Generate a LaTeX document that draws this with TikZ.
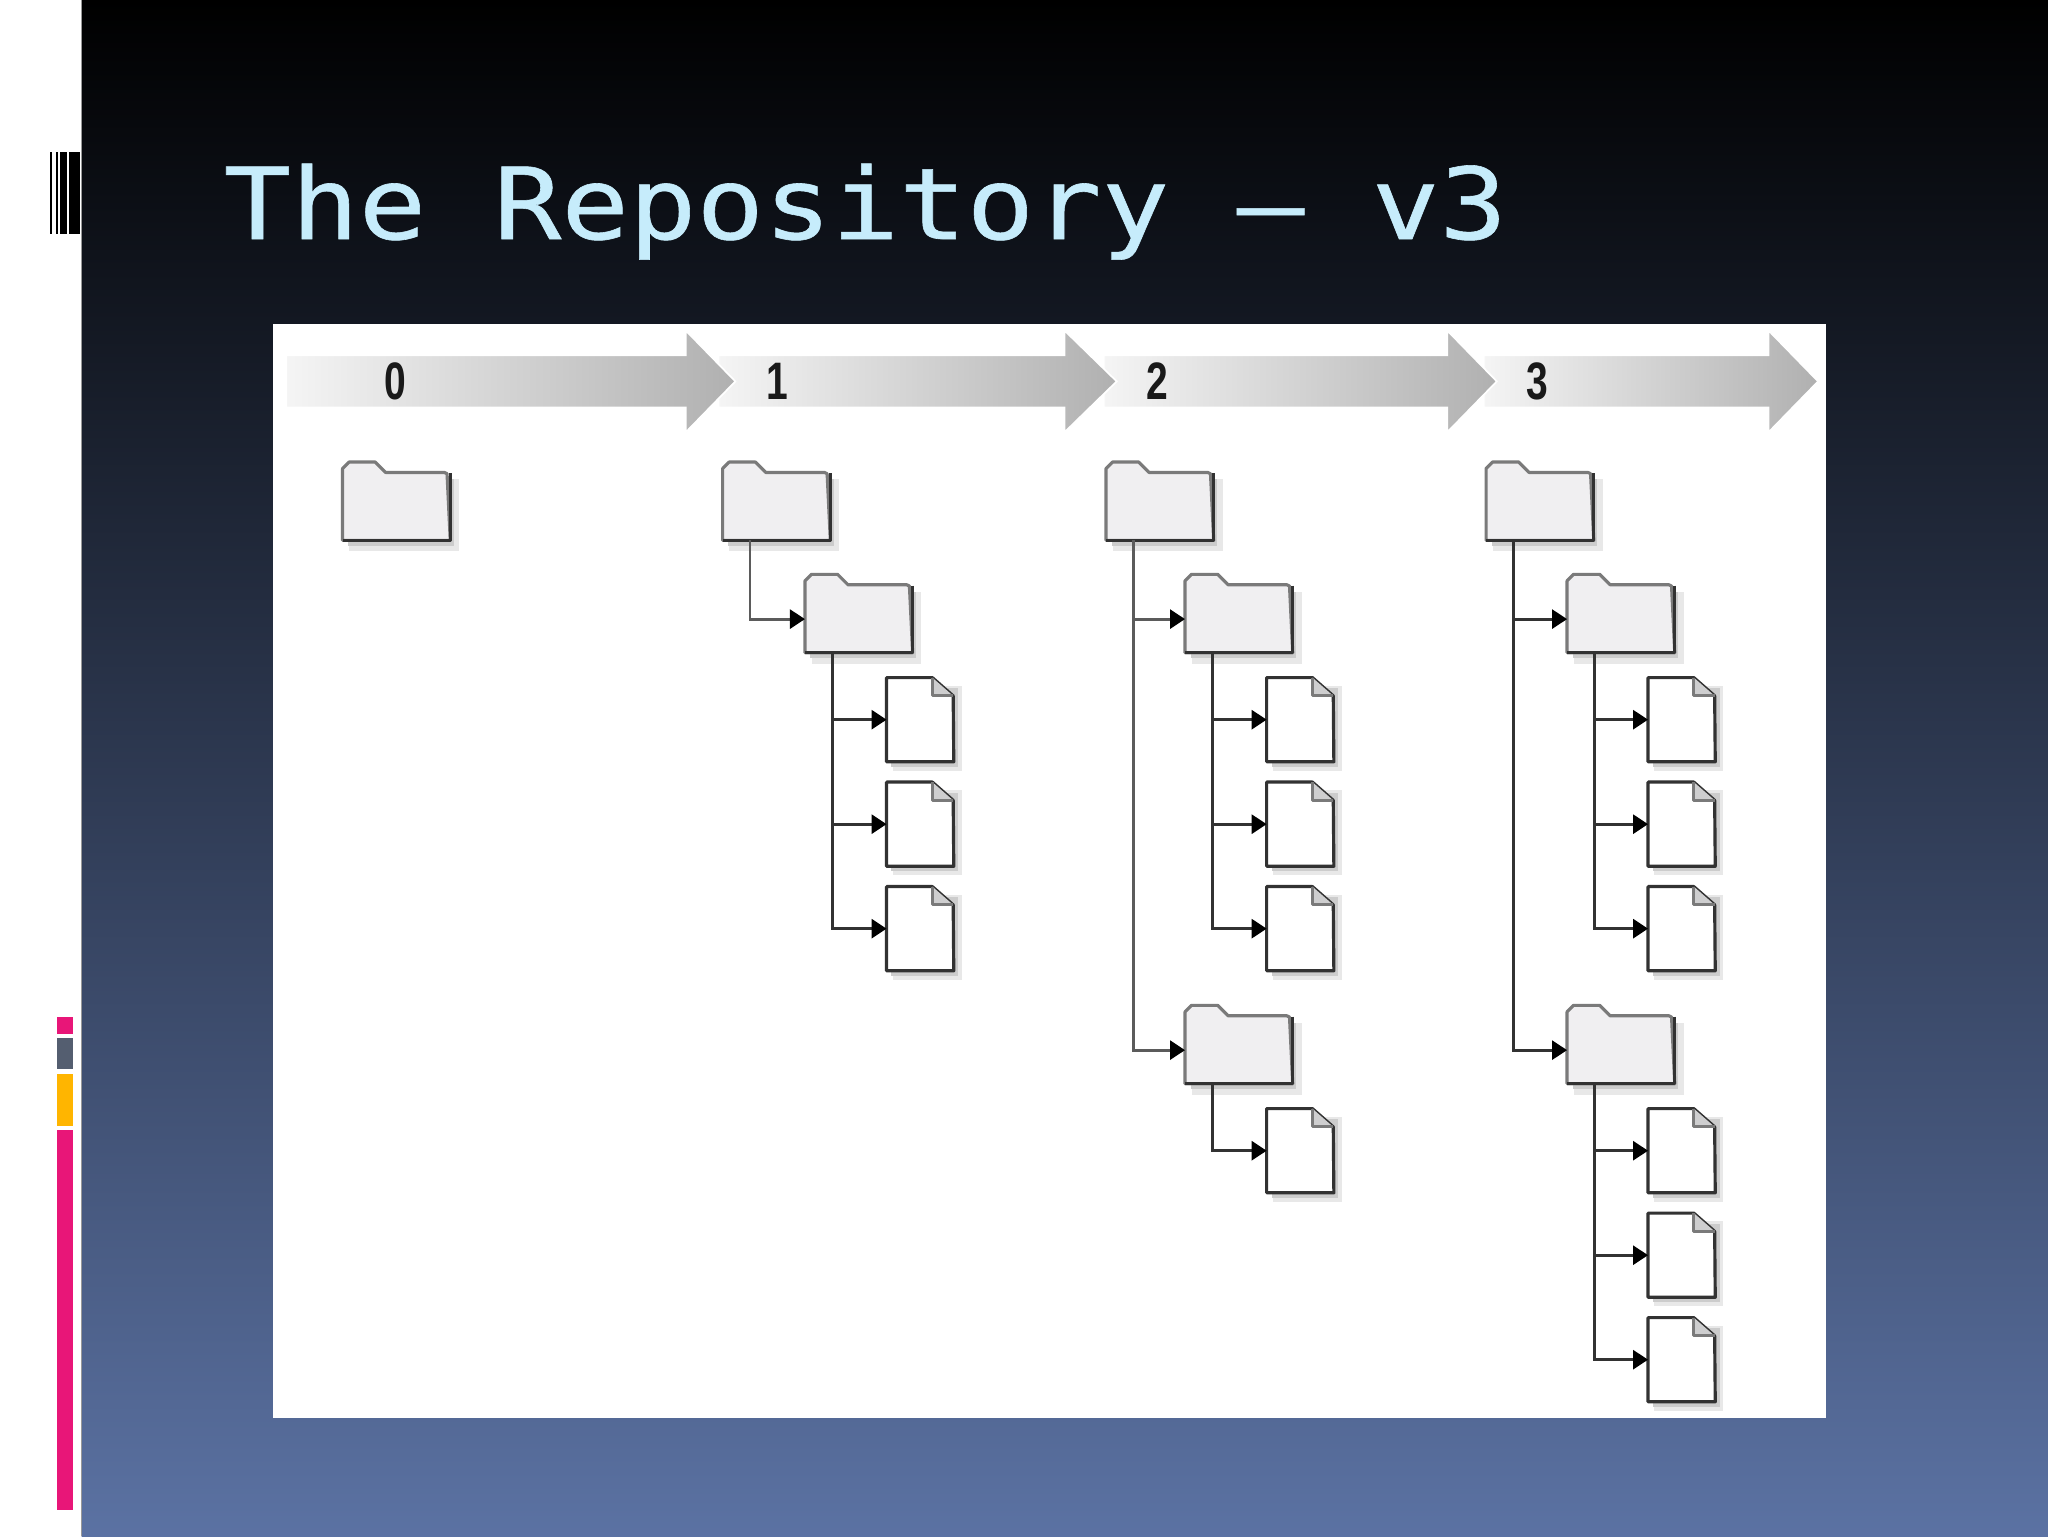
\documentclass[tikz,border=0pt]{standalone}
\usepackage{fontspec}
\usepackage{tikz}
\usetikzlibrary{arrows.meta, positioning, calc}
\newfontfamily\titlefont[FakeStretch=1.13, FakeBold=0.6]{DejaVu Sans Mono}
\newfontfamily\numfont[FakeStretch=0.74]{Liberation Sans}
\definecolor{slidetop}{RGB}{0, 0, 0}
\definecolor{slidemid}{RGB}{44, 58, 82}
\definecolor{slidelow}{RGB}{91, 114, 163}
\definecolor{titleblue}{RGB}{198, 236, 251}
\definecolor{barpink}{RGB}{232, 22, 120}
\definecolor{bargray}{RGB}{84, 94, 112}
\definecolor{baramber}{RGB}{255, 181, 0}
\definecolor{linegray}{RGB}{50, 50, 50}
\definecolor{foldergray}{RGB}{240, 239, 241}

% folder: body node plus tab, shadow and the point where its trunk leaves
\newcommand{\folder}[3]{
  \fill[shadowfar] (#2-36,#3-21) rectangle (#2+48,#3+34);
  \fill[shadownear] (#2-37,#3-21) rectangle (#2+44,#3+30);
  \node[folderbox] (#1) at (#2,#3) {};
  \draw[folderedge, fill=foldergray] (#1.south west) -- ++(0,-55) -- ++(5,-5) -- ++(20,0) -- ++(8,8) -- ++(45,0) -- ++(2,1) -- (#1.south east) -- cycle;
  \draw[folderdark] (#1.north east) -- (#1.south east) -- (#1.south west);
  \coordinate (#1-stem) at ($(#1.south west)+(21,0)$);
}
% document: page node plus turned corner and shadow
\newcommand{\page}[3]{
  \fill[shadowfar] (#2-21,#3-26) rectangle (#2+32,#3+39);
  \fill[shadownear] (#2-22,#3-24) rectangle (#2+29,#3+36);
  \node[pagebox] (#1) at (#2,#3) {};
  \draw[folderdark, fill=white] (#1.south west) -- (#1.north west) -- ++(35,0) -- ++(16,14) -- (#1.south east) -- cycle;
  \fill[foldergray!70!gray] ($(#1.north west)+(35,0)$) -- ++(16,14) -- ++(-16,0) -- cycle;
  \draw[folderedge] ($(#1.north west)+(35,0)$) -- ++(0,14) -- ++(16,0);
}

\begin{document}
\begin{tikzpicture}[
  x=0.02612cm, y=-0.02612cm,
  folderbox/.style={minimum width=2.14cm, minimum height=1.33cm, inner sep=0pt},
  pagebox/.style={minimum width=1.33cm, minimum height=1.67cm, inner sep=0pt},
  folderedge/.style={draw=linegray!65, line width=1.8pt, line join=round},
  folderdark/.style={draw=linegray, line width=1.8pt, line join=round},
  shadowfar/.style={fill=black!9},
  shadownear/.style={fill=black!20},
  link/.style={line width=1.6pt, -{Triangle[length=3mm, width=3.8mm, color=black]}},
  stepnum/.style={font=\numfont\bfseries\fontsize{30}{30}\selectfont, text=black!90, inner sep=0pt},
  titletext/.style={font=\titlefont\fontsize{56.5}{56.5}\selectfont, text=titleblue, inner sep=0pt, anchor=base west}
]
  \useasboundingbox (0,0) rectangle (1568,1176);

  % slide background
  \fill[white] (0,0) rectangle (62.5,1176);
  \fill[top color=slidetop, middle color=slidemid, bottom color=slidelow] (62.5,0) rectangle (1568,1176);
  \draw[black!40, line width=0.5pt] (62.5,0) -- (62.5,1176);

  % bars on the white strip
  \foreach \xa/\xb in {38.3/39.6, 42.6/44.7, 45.9/51, 53/61.2}
    \fill[black] (\xa,116.6) rectangle (\xb,179.2);
  \foreach \ya/\yb/\col in {778.8/791.3/barpink, 795/818.8/bargray, 822.2/861.8/baramber, 865/1155.7/barpink}
    \fill[\col] (43.9,\ya) rectangle (56.2,\yb);

  \node[titletext] (title) at (171,183) {The Repository – v3};

  % white picture
  \fill[white] (209,248) rectangle (1398,1086);

  % revision arrows, last one first so each head lies over the next tail
  \foreach \xs/\xh/\xt in {1136/1354/1392, 845/1108/1146, 550/815/855, 219/525/563}
    \filldraw[draw=white, line width=1pt, left color=black!4, right color=black!31]
      (\xs,272) -- (\xh,272) -- (\xh,253) -- (\xt,292) -- (\xh,331) -- (\xh,312) -- (\xs,312) -- cycle;
  \foreach \n/\xn/\name in {0/303/numA, 1/595/numB, 2/886/numC, 3/1177/numD}
    \node[stepnum] (\name) at (\xn,292) {\n};

  % revision 0
  \folder{rootA}{303.5}{388}

  % revisions 1, 2, 3: root, first folder, three files
  \foreach \c/\xr/\xf/\xp/\tone in {B/594.5/657.5/704.5/80, C/888/948.5/995.5/80, D/1179/1241/1287.5/100} {
    \folder{root\c}{\xr}{388}
    \folder{sub\c}{\xf}{474}
    \draw[link, draw=linegray!\tone] (root\c-stem) |- (sub\c);
    \foreach \n/\yp in {1/551, 2/631, 3/711} {
      \page{doc\c\n}{\xp}{\yp}
      \draw[link, draw=linegray] (sub\c-stem) |- (doc\c\n);
    }
  }

  % revision 2: second folder, one file
  \folder{extC}{948.5}{804}
  \draw[link, draw=linegray!80] (rootC-stem) |- (extC);
  \page{moreC1}{995.5}{881}
  \draw[link, draw=linegray] (extC-stem) |- (moreC1);

  % revision 3: second folder, three files
  \folder{extD}{1241}{804}
  \draw[link, draw=linegray] (rootD-stem) |- (extD);
  \foreach \n/\yp in {1/881, 2/961, 3/1041} {
    \page{moreD\n}{1287.5}{\yp}
    \draw[link, draw=linegray] (extD-stem) |- (moreD\n);
  }
\end{tikzpicture}
\end{document}
